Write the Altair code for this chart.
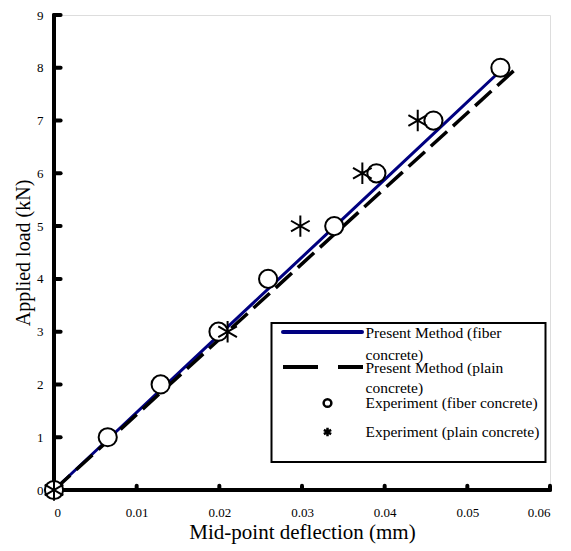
import altair as alt
import pandas as pd

# ---- data ----
load_line = [0, 1, 2, 3, 4, 5, 6, 7, 8]
defl_fiber_method = [0, 0.0068, 0.0136, 0.0204, 0.0272, 0.0340, 0.0408, 0.0476, 0.0544]
defl_plain_method = [0, 0.0070, 0.0140, 0.0210, 0.0280, 0.0350, 0.0420, 0.0490, 0.0560]

load_fiber_exp = [0, 1, 2, 3, 4, 5, 6, 7, 8]
defl_fiber_exp = [0, 0.0065, 0.0129, 0.0199, 0.0259, 0.0339, 0.0390, 0.0459, 0.0540]

load_plain_exp = [0, 3, 5, 6, 7]
defl_plain_exp = [0, 0.0210, 0.0298, 0.0373, 0.0440]

x_ticks = [0, 0.01, 0.02, 0.03, 0.04, 0.05, 0.06]
y_ticks = [0, 1, 2, 3, 4, 5, 6, 7, 8, 9]

legend_labels = [
    ["Present Method (fiber", "concrete)"],
    ["Present Method (plain", "concrete)"],
    ["Experiment (fiber concrete)"],
    ["Experiment (plain concrete)"],
]

W, H = 496, 475
FONT = "Liberation Serif"

xscale = alt.Scale(domain=[0, 0.06], nice=False, zero=True)
yscale = alt.Scale(domain=[0, 9], nice=False, zero=True)

x_axis = alt.Axis(
    title="Mid-point deflection (mm)", values=x_ticks,
    labelExpr="datum.value == 0 ? '0' : format(datum.value, '.2f')",
    labelPadding=16, titlePadding=2, domain=False, ticks=False, grid=False,
    labelFont=FONT, labelFontSize=13, labelColor="black",
    titleFont=FONT, titleFontSize=21, titleFontWeight="normal", titleColor="black",
)
y_axis = alt.Axis(
    title="Applied load (kN)", values=y_ticks, format="d",
    labelPadding=11, titlePadding=3, domain=False, ticks=False, grid=False,
    labelFont=FONT, labelFontSize=13, labelColor="black",
    titleFont=FONT, titleFontSize=20, titleFontWeight="normal", titleColor="black",
)

df_fm = pd.DataFrame({"x": defl_fiber_method, "y": load_line})
df_pm = pd.DataFrame({"x": defl_plain_method, "y": load_line})
df_fe = pd.DataFrame({"x": defl_fiber_exp, "y": load_fiber_exp})
df_pe = pd.DataFrame({"x": defl_plain_exp, "y": load_plain_exp})

STAR = "M0,-1L0,1M-0.87,-0.5L0.87,0.5M-0.87,0.5L0.87,-0.5"

X = alt.X("x:Q", scale=xscale, axis=x_axis)
Y = alt.Y("y:Q", scale=yscale, axis=y_axis)

# axis lines (bold)
one = alt.Data(values=[{"k": 1}])
x_line = alt.Chart(one).mark_rule(color="black", strokeWidth=4, strokeCap="round").encode(
    x=alt.value(0), x2=alt.value(W), y=alt.value(H)
)
y_line = alt.Chart(one).mark_rule(color="black", strokeWidth=4, strokeCap="round").encode(
    x=alt.value(0), y=alt.value(0), y2=alt.value(H)
)

# inward tick marks
xt = alt.Chart(pd.DataFrame({"x": x_ticks[1:]})).mark_rule(color="black", strokeWidth=4,
                                                          strokeCap="round").encode(
    x=X, y=alt.datum(0, scale=yscale), y2=alt.datum(0.08)
)
yt = alt.Chart(pd.DataFrame({"y": y_ticks[1:]})).mark_rule(color="black", strokeWidth=4,
                                                          strokeCap="round").encode(
    y=Y, x=alt.datum(0, scale=xscale), x2=alt.datum(0.0008)
)

fiber_line = alt.Chart(df_fm).mark_line(color="#000080", strokeWidth=3).encode(x=X, y=Y)
plain_line = alt.Chart(df_pm).mark_line(color="black", strokeWidth=3.5,
                                        strokeDash=[22, 8]).encode(x=X, y=Y)
fiber_pts = alt.Chart(df_fe).mark_point(shape="circle", size=330, filled=True, fill="white",
                                        stroke="black", strokeWidth=2, opacity=1).encode(x=X, y=Y)
plain_pts = alt.Chart(df_pe).mark_point(shape=STAR, size=460, stroke="black", strokeWidth=2,
                                        filled=False, opacity=1).encode(x=X, y=Y)

# ---- legend ----
lx0, lx1, ly0, ly1 = 217.5, 491.5, 308, 447
box = alt.Chart(one).mark_rect(fill="white", stroke="black", strokeWidth=2).encode(
    x=alt.value(lx0), x2=alt.value(lx1), y=alt.value(ly0), y2=alt.value(ly1)
)
leg_blue = alt.Chart(one).mark_rule(color="#000080", strokeWidth=4, strokeCap="round").encode(
    x=alt.value(229), x2=alt.value(308), y=alt.value(317)
)
leg_dash = alt.Chart(one).mark_rule(color="black", strokeWidth=4, strokeDash=[35, 20]).encode(
    x=alt.value(229), x2=alt.value(309), y=alt.value(352)
)
leg_circ = alt.Chart(one).mark_point(shape="circle", size=60, stroke="black", strokeWidth=2.5,
                                     fill="white", filled=True, opacity=1).encode(
    x=alt.value(273.5), y=alt.value(388)
)
leg_star = alt.Chart(one).mark_point(shape=STAR, size=70, stroke="black", strokeWidth=2.5,
                                     opacity=1).encode(
    x=alt.value(273.5), y=alt.value(417)
)
text_rows = [(legend_labels[0], [318, 340]), (legend_labels[1], [353, 373]),
             (legend_labels[2], [388]), (legend_labels[3], [417])]
texts = []
for lines, ys in text_rows:
    for line, yy in zip(lines, ys):
        texts.append(
            alt.Chart(one).mark_text(align="left", baseline="middle", font=FONT, fontSize=15.5,
                                     color="black").encode(
                x=alt.value(311.5), y=alt.value(yy), text=alt.value(line)
            )
        )

chart = alt.layer(
    fiber_line, plain_line, x_line, y_line, xt, yt, fiber_pts, plain_pts,
    box, leg_blue, leg_dash, leg_circ, leg_star, *texts
).properties(
    width=W, height=H,
    autosize=alt.AutoSizeParams(type="none"),
    padding={"left": 46, "top": 7, "right": 10, "bottom": 60},
).configure_view(strokeWidth=0).configure(background="white")

chart.save("out.html", embed_options={"renderer": "svg", "actions": False})
